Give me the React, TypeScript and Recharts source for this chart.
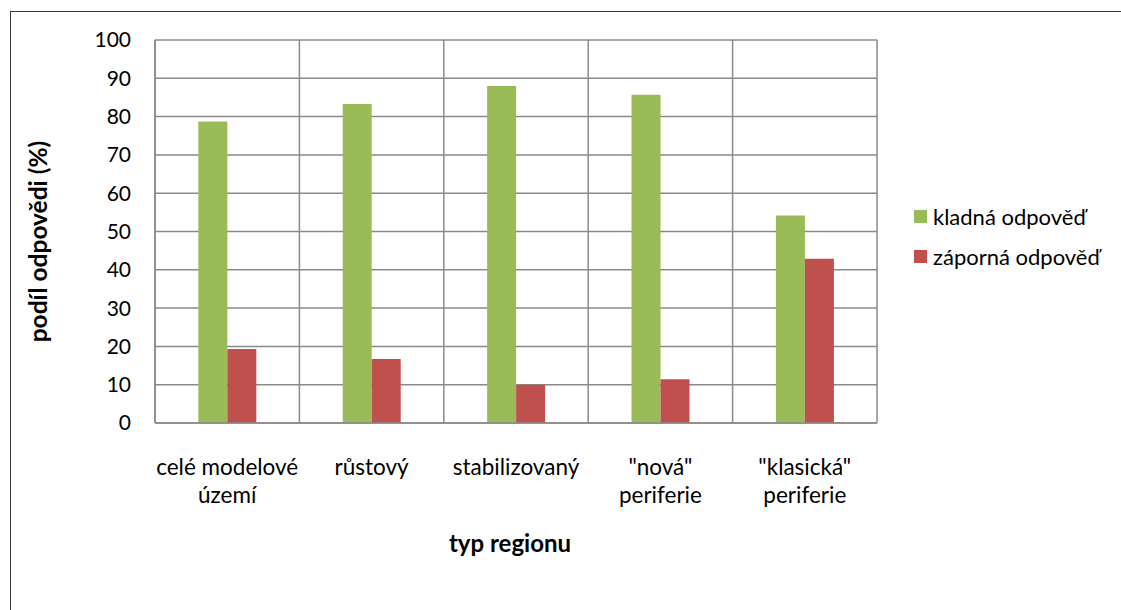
import React from 'react';
import { BarChart, Bar, XAxis, YAxis, CartesianGrid, Legend } from 'recharts';

const categories = ['celé modelové\núzemí', 'růstový', 'stabilizovaný', '"nová"\nperiferie', '"klasická"\nperiferie'];
const positive = [78.7, 83.3, 88.0, 85.7, 54.2];
const negative = [19.3, 16.7, 10.0, 11.4, 42.9];
const yTicks = [0, 10, 20, 30, 40, 50, 60, 70, 80, 90, 100];
const seriesNames = ['kladná odpověď', 'záporná odpověď'];
const xTitle = 'typ regionu';
const yTitle = 'podíl odpovědi (%)';

const data = categories.map((c, i) => ({ cat: c, pos: positive[i], neg: negative[i] }));

const FONT = 'Lato, "Noto Sans", sans-serif';
const GREEN = '#9BBB59';
const RED = '#C0504D';
const GRID = '#8a8a8a';

const XTick = (props: any) => {
  const { x, y, payload } = props;
  const lines = String(payload.value).split('\n');
  return (
    <text x={x} y={y} textAnchor="middle" fontFamily={FONT} fontSize={22.5} fill="#000">
      {lines.map((l, i) => (
        <tspan key={i} x={x} y={y + 52 + i * 28}>{l}</tspan>
      ))}
    </text>
  );
};

const YLabel = (props: any) => {
  const vb = props.viewBox;
  const cx = vb.x + 37;
  const cy = vb.y + vb.height / 2 + 10;
  return (
    <text x={cx} y={cy} transform={`rotate(-90 ${cx} ${cy})`} textAnchor="middle" dominantBaseline="central" fontFamily={FONT} fontWeight="bold" fontSize={24.5} fill="#000">
      {yTitle}
    </text>
  );
};

const XLabel = (props: any) => {
  const vb = props.viewBox;
  const cx = vb.x + vb.width / 2 - 6;
  const cy = vb.y + 119;
  return (
    <text x={cx} y={cy} textAnchor="middle" dominantBaseline="central" fontFamily={FONT} fontWeight="bold" fontSize={24} fill="#000">
      {xTitle}
    </text>
  );
};

const LegendContent = () => {
  const colors = [GREEN, RED];
  return (
    <div style={{ fontFamily: FONT, fontSize: 22, color: '#000' }}>
      {seriesNames.map((n, i) => (
        <div key={n} style={{ display: 'flex', alignItems: 'center', height: 40 }}>
          <span style={{ display: 'inline-block', width: 13, height: 13, background: colors[i], marginRight: 6 }} />
          <span>{n}</span>
        </div>
      ))}
    </div>
  );
};

export default function App() {
  return (
    <div style={{ position: 'absolute', left: 0, top: 0, width: 1121, height: 610, background: '#fff', overflow: 'hidden' }}>
      <div style={{ position: 'absolute', left: 10, top: 11, width: 1200, height: 700, borderLeft: '1.5px solid #3a3a3a', borderTop: '1.5px solid #3a3a3a' }} />
      <div style={{ position: 'absolute', left: 0, top: 0 }}>
        <BarChart width={1121} height={610} data={data} margin={{ top: 40, right: 244, bottom: 0, left: 0 }} barCategoryGap="30%" barGap={0}>
          <CartesianGrid
            stroke={GRID}
            strokeWidth={1.5}
            verticalCoordinatesGenerator={({ offset }: any) =>
              Array.from({ length: categories.length + 1 }, (_, i) => offset.left + (i * offset.width) / categories.length)
            }
          />
          <XAxis dataKey="cat" height={187} tickLine={false} tickSize={0} tickMargin={0} axisLine={{ stroke: GRID, strokeWidth: 1.5 }} tick={<XTick />} interval={0} label={<XLabel />} />
          <YAxis width={155} domain={[0, 100]} ticks={yTicks} tickLine={false} tickSize={0} tickMargin={24} axisLine={{ stroke: GRID, strokeWidth: 1.5 }} tick={{ fontFamily: FONT, fontSize: 21, fill: '#000' }} label={<YLabel />} />
          <Legend layout="vertical" align="center" verticalAlign="middle" content={<LegendContent />} wrapperStyle={{ left: 914, top: 196, width: 200 }} />
          <Bar dataKey="pos" name={seriesNames[0]} fill={GREEN} isAnimationActive={false} />
          <Bar dataKey="neg" name={seriesNames[1]} fill={RED} isAnimationActive={false} />
        </BarChart>
      </div>
    </div>
  );
}
